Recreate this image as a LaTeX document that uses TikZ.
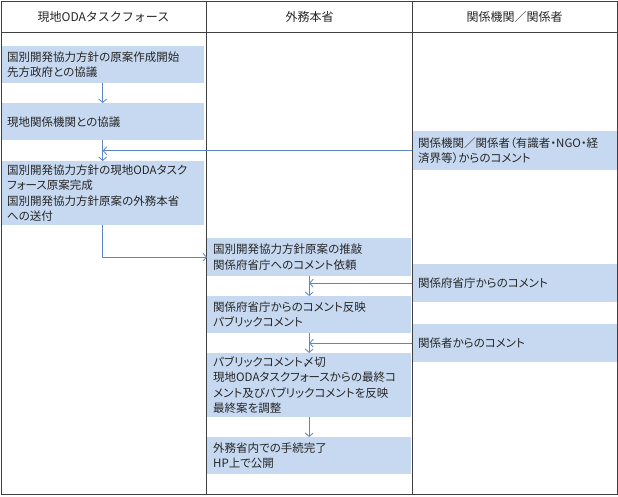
\documentclass[tikz,border=0pt]{standalone}
\usepackage{fontspec}
\newfontfamily\jp[RawFeature=+palt]{Noto Sans CJK JP}
\newfontfamily\jph{Noto Sans CJK JP}
\usetikzlibrary{arrows.meta}
\definecolor{boxfill}{HTML}{C6D9F1}
\definecolor{flow}{HTML}{5B87C5}
\definecolor{framec}{HTML}{404040}
\begin{document}
\begin{tikzpicture}[x=1pt,y=-1pt,
  stepbox/.style={fill=boxfill, draw=none, anchor=north west, inner xsep=6pt, inner ysep=0pt,
    align=left, font=\jp\fontsize{11.5}{15.4}\selectfont, text=black!85},
  colL/.style={stepbox, text width=191pt},
  colM/.style={stepbox, text width=192pt},
  colR/.style={stepbox, text width=193pt},
  head/.style={font=\jph\fontsize{12}{14}\selectfont, text=black!85, inner sep=0pt},
  flowline/.style={draw=flow, line width=0.8pt, -{Straight Barb[length=3.5pt,width=8pt]}},
  frameline/.style={draw=framec, line width=0.9pt}]
\useasboundingbox (0,0) rectangle (618,496);
\fill[white] (0,0) rectangle (618,496);
% left column
\node[colL, minimum height=37pt] (L1) at (1,46) {国別開発協力方針の原案作成開始\\先方政府との協議};
\node[colL, minimum height=37pt] (L2) at (1,103) {現地関係機関との協議};
\node[colL, minimum height=64pt] (L3) at (1,161) {国別開発協力方針の現地ODAタスク\\フォース原案完成\\国別開発協力方針原案の外務本省\\への送付};
% middle column
\node[colM, minimum height=38pt] (M1) at (207,238) {国別開発協力方針原案の推敲\\関係府省庁へのコメント依頼};
\node[colM, minimum height=37pt] (M2) at (207,296) {関係府省庁からのコメント反映\\パブリックコメント};
\node[colM, minimum height=64pt] (M3) at (207,353) {パブリックコメント〆切\\現地ODAタスクフォースからの最終コ\\メント及びパブリックコメントを反映\\最終案を調整};
\node[colM, minimum height=37pt] (M4) at (207,437) {外務省内での手続完了\\HP上で公開};
% right column
\node[colR, minimum height=39pt] (R1) at (412,131) {関係機関／関係者（有識者・NGO・経\\済界等）からのコメント};
\node[colR, minimum height=38pt] (R2) at (412,264) {関係府省庁からのコメント};
\node[colR, minimum height=38pt] (R3) at (412,324) {関係者からのコメント};
% headers
\node[head] (H1) at (103.5,16.5) {現地ODAタスクフォース};
\node[head] (H2) at (309.5,16.5) {外務本省};
\node[head] (H3) at (514.5,16.5) {関係機関／関係者};
% frame
\draw[frameline] (1,1) rectangle (617,494);
\draw[frameline] (1,32.5) -- (617,32.5);
\draw[frameline] (206.5,1) -- (206.5,494);
\draw[frameline] (412,1) -- (412,494);
% connectors
\draw[flowline] (L1.south) -- (L2.north);
\draw[flowline] (L2.south) -- (L3.north);
\draw[flowline] (R1.west) -- (R1.west -| L2.south);
\draw[flowline] (L3.south) |- (M1.west);
\draw[flowline] (M1.south) -- (M2.north);
\draw[flowline] (R2.west) -- (R2.west -| M1.south);
\draw[flowline] (M2.south) -- (M3.north);
\draw[flowline] (R3.west) -- (R3.west -| M2.south);
\draw[flowline] (M3.south) -- (M4.north);
\end{tikzpicture}
\end{document}
